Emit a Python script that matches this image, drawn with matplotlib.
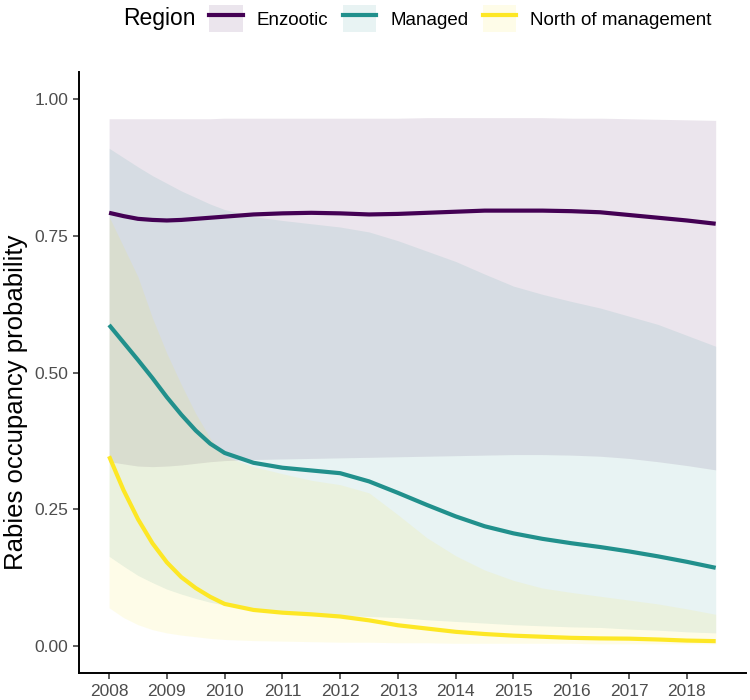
import numpy as np
import matplotlib
matplotlib.use("Agg")
import matplotlib.pyplot as plt
from matplotlib.patches import Patch
from matplotlib.lines import Line2D

plt.rcParams['font.family'] = ['Liberation Sans', 'DejaVu Sans']

# years of the fitted curves (denser early on where curves bend hard)
years = [2008, 2008.25, 2008.5, 2008.75, 2009, 2009.25, 2009.5, 2009.75,
         2010, 2010.5, 2011, 2011.5, 2012, 2012.5, 2013, 2013.5, 2014, 2014.5,
         2015, 2015.5, 2016, 2016.5, 2017, 2017.5, 2018, 2018.5]

regions = ['Enzootic', 'Managed', 'North of management']
colors = ['#440154', '#21908C', '#FDE725']

enz_mean = [0.792, 0.786, 0.781, 0.779, 0.778, 0.779, 0.781, 0.783,
            0.785, 0.789, 0.791, 0.792, 0.791, 0.789, 0.790, 0.792, 0.794, 0.796,
            0.796, 0.796, 0.795, 0.793, 0.788, 0.783, 0.778, 0.772]
enz_lo = [0.337, 0.333, 0.329, 0.328, 0.329, 0.331, 0.334, 0.337,
          0.339, 0.341, 0.342, 0.343, 0.344, 0.345, 0.346, 0.347, 0.348, 0.349,
          0.350, 0.350, 0.349, 0.347, 0.343, 0.337, 0.330, 0.322]
enz_hi = [0.964, 0.964, 0.964, 0.964, 0.964, 0.964, 0.964, 0.964,
          0.965, 0.965, 0.965, 0.965, 0.965, 0.965, 0.965, 0.966, 0.966, 0.966,
          0.966, 0.966, 0.965, 0.965, 0.964, 0.963, 0.962, 0.961]

man_mean = [0.587, 0.555, 0.523, 0.490, 0.455, 0.423, 0.394, 0.370,
            0.353, 0.335, 0.326, 0.321, 0.316, 0.301, 0.280, 0.258, 0.237, 0.219,
            0.206, 0.196, 0.188, 0.181, 0.173, 0.164, 0.154, 0.143]
man_lo = [0.164, 0.146, 0.129, 0.116, 0.104, 0.095, 0.087, 0.080,
          0.075, 0.068, 0.063, 0.059, 0.056, 0.054, 0.052, 0.048, 0.045, 0.042,
          0.039, 0.037, 0.035, 0.034, 0.031, 0.029, 0.026, 0.024]
man_hi = [0.910, 0.893, 0.876, 0.860, 0.846, 0.832, 0.820, 0.808,
          0.798, 0.785, 0.778, 0.772, 0.766, 0.757, 0.741, 0.722, 0.703, 0.680,
          0.658, 0.643, 0.630, 0.618, 0.603, 0.588, 0.568, 0.548]

nor_mean = [0.347, 0.285, 0.232, 0.188, 0.153, 0.126, 0.106, 0.090,
            0.077, 0.066, 0.061, 0.058, 0.054, 0.047, 0.038, 0.032, 0.026, 0.022,
            0.019, 0.017, 0.015, 0.014, 0.0135, 0.012, 0.010, 0.009]
nor_lo = [0.070, 0.052, 0.039, 0.030, 0.024, 0.020, 0.017, 0.014,
          0.012, 0.010, 0.009, 0.008, 0.007, 0.007, 0.006, 0.006, 0.005, 0.005,
          0.005, 0.005, 0.005, 0.004, 0.004, 0.004, 0.004, 0.004]
nor_hi = [0.785, 0.730, 0.675, 0.600, 0.535, 0.478, 0.425, 0.380,
          0.347, 0.328, 0.315, 0.303, 0.295, 0.280, 0.240, 0.198, 0.165, 0.139,
          0.120, 0.106, 0.098, 0.091, 0.084, 0.077, 0.068, 0.058]

means = [enz_mean, man_mean, nor_mean]
lows = [enz_lo, man_lo, nor_lo]
highs = [enz_hi, man_hi, nor_hi]

fig = plt.figure(figsize=(7.5, 7), dpi=100)
ax = fig.add_axes([0.105, 0.038, 0.8897, 0.8596])

for lo, hi, c in zip(lows, highs, colors):
    ax.fill_between(years, lo, hi, color=c, alpha=0.1, linewidth=0)
for m, c in zip(means, colors):
    ax.plot(years, m, color=c, lw=3, solid_capstyle='butt', solid_joinstyle='round')

ax.set_xlim(2007.475, 2019.025)
ax.set_ylim(-0.05, 1.05)
ax.set_xticks(range(2008, 2019))
ax.set_yticks([0, 0.25, 0.5, 0.75, 1.0])
ax.set_yticklabels(['0.00', '0.25', '0.50', '0.75', '1.00'])
ax.set_ylabel('Rabies occupancy probability', fontsize=18.5, color='black')
ax.yaxis.set_label_coords(-0.076, 0.45)

for side in ['top', 'right']:
    ax.spines[side].set_visible(False)
for side in ['left', 'bottom']:
    ax.spines[side].set_linewidth(1.4)
ax.tick_params(axis='both', labelsize=12.5, labelcolor='#4D4D4D', color='#333333',
               length=4.5, width=1.1, pad=3)

# legend across the top
handles = [(Patch(facecolor=c, alpha=0.1, edgecolor='none'),
            Line2D([], [], color=c, lw=3)) for c in colors]
fig.legend(handles, regions, loc='center left', bbox_to_anchor=(209 / 750, 1 - 18.5 / 700),
           ncol=3, frameon=False, fontsize=13.5, borderpad=0, borderaxespad=0,
           handlelength=1.8, handleheight=1.76, handletextpad=0.75, columnspacing=0.75)
fig.text(123 / 750, 1 - 18.5 / 700, 'Region', fontsize=16.5, va='center', ha='left')

fig.savefig('out.png', dpi=100)
